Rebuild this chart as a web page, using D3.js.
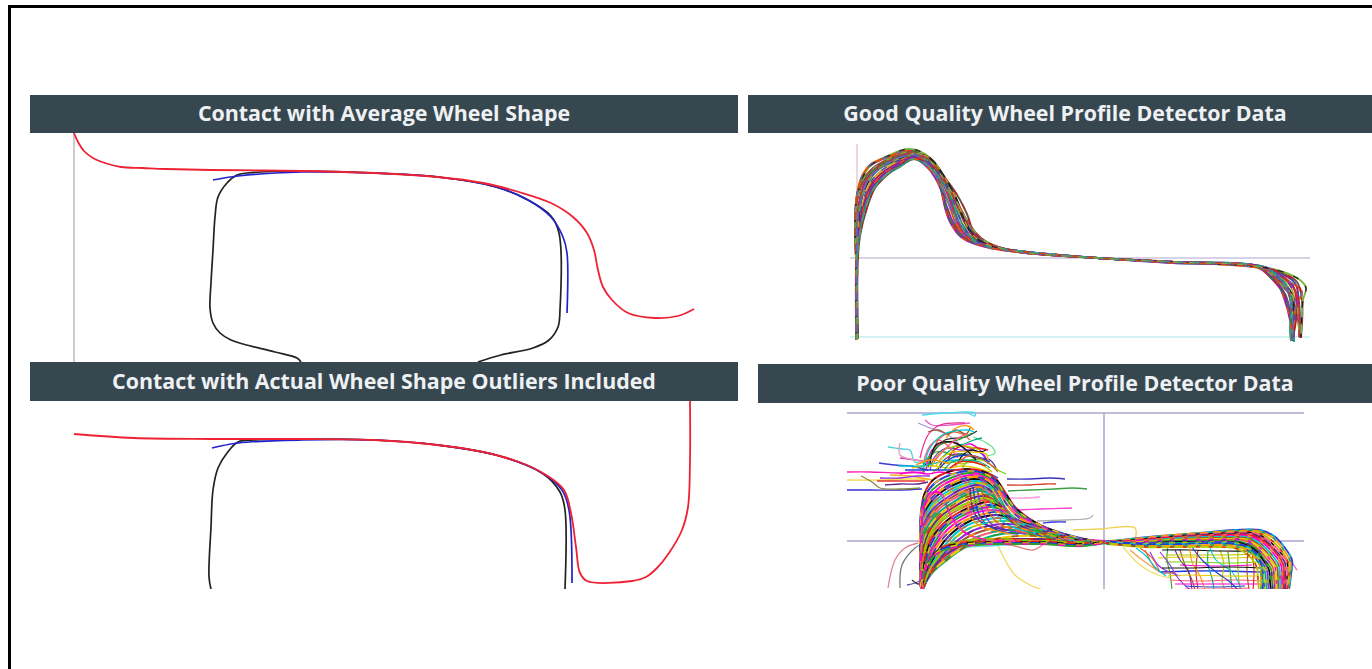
<!DOCTYPE html>
<html>
<head>
<meta charset="utf-8">
<script src="https://cdn.jsdelivr.net/npm/d3@7"></script>
<style>
  html, body { margin: 0; padding: 0; background: #fff; overflow: hidden; }
  svg { display: block; }
  .title { font-family: "Open Sans", sans-serif; font-weight: 700; font-size: 21.4px; fill: #eef1f3; }
</style>
</head>
<body>
<svg id="chart" width="1372" height="669"></svg>
<script>
const titles = [
  "Contact with Average Wheel Shape",
  "Good Quality Wheel Profile Detector Data",
  "Contact with Actual Wheel Shape Outliers Included",
  "Poor Quality Wheel Profile Detector Data"
];

// Average wheel panel
const avgWheel = [[44,0],[48,9],[54,18],[63,25],[75,30],[91,34],[113,35],[136,36],[181,37],[272,38],[344,40],[408,44],[453,50],[489,59],[521,70],[543,84],[557,100],[564,117],[568,137],[573,154],[582,167],[598,180],[625,185],[648,183],[664,176]];
const avgDesign = [[183,47],[208,43],[272,39],[344,40],[408,44],[466,54],[498,67],[521,84],[533,104],[537,120],[537,180]];
const avgRail = [[271,229],[267,225],[245,219],[213,211],[201,207],[190,200],[183,190],[180,175],[181,150],[183,117],[185,84],[188,64],[197,50],[207,42],[217,40],[272,38],[344,40],[408,44],[466,54],[498,67],[521,83],[529,100],[530,177],[528,194],[519,207],[503,215],[471,222],[448,229]];
const avgAxis = [[44,0],[44,229]];

// Actual wheel panel
const actWheel = [[44,33],[104,37],[181,38],[272,38],[344,39],[408,44],[453,51],[489,61],[516,74],[534,89],[541,112],[546,146],[550,172],[557,180],[602,180],[616,176],[627,167],[639,152],[652,129],[658,106],[660,59],[660,0]];
const actDesign = [[182,47],[208,42],[272,39],[344,39],[408,44],[466,54],[512,72],[532,89],[539,109],[542,182]];
const actRail = [[181,188],[179,176],[181,126],[183,89],[188,67],[197,52],[208,41],[226,39],[272,38],[344,39],[408,44],[466,54],[512,72],[530,91],[535,109],[535,188]];

// Detector traces: "x,y" pairs
const goodProfiles = [
  "17,210 16,130 15,92 17,65 22,48 30,36 48,27 70,20 84,27 98,48 103,68 110,90 120,105 138,114 177,121 257,128 333,132 417,137 430,147 443,163 450,183 452,211",
  "16,209 16,130 15,95 18,66 24,50 33,38 52,28 71,22 86,30 100,52 106,74 113,92 123,106 141,115 178,121 257,128 333,132 418,137 432,147 445,164 451,185 453,211",
  "17,210 17,128 17,96 20,68 26,50 36,38 54,29 72,23 88,30 102,50 110,70 118,92 128,107 146,116 178,122 257,128 334,132 418,136 434,146 447,160 452,180 452,210",
  "17,208 16,128 17,98 21,70 28,52 38,40 55,31 70,25 88,33 104,52 113,76 120,94 131,108 148,116 179,122 258,128 333,133 419,137 436,146 449,160 453,182 454,212",
  "17,210 17,130 18,100 23,72 30,53 41,41 56,32 72,26 90,33 106,54 116,78 123,95 134,109 150,116 179,122 258,128 334,132 420,137 438,145 451,157 455,180 453,210",
  "16,210 17,130 18,102 24,74 31,55 42,43 58,33 73,27 92,36 108,56 119,80 127,97 137,110 152,116 178,121 258,128 333,132 420,136 439,144 453,156 457,176 453,208",
  "17,209 17,130 19,104 25,76 33,57 44,44 59,35 74,28 94,38 110,58 122,82 130,99 141,110 155,116 179,122 257,128 333,132 421,136 440,143 455,153 459,172 460,207",
  "17,210 18,128 20,106 27,78 35,58 46,46 60,36 75,29 97,40 114,60 127,84 133,100 145,111 158,117 180,122 257,128 334,132 422,137 442,143 457,152 462,170 461,208",
  "16,208 16,126 15,94 17,67 23,47 31,35 50,25 68,19 85,24 102,44 114,64 123,88 134,106 150,116 178,121 257,128 333,132 420,137 437,140 460,150 466,158 463,170 461,207",
  "17,210 16,127 15,90 17,64 22,46 31,34 50,26 66,21 84,31 99,50 108,72 117,96 128,109 146,117 177,122 258,128 334,132 419,138 433,143 450,152 462,162 456,176 452,210",
  "18,209 17,128 18,99 21,71 28,52 38,39 56,30 74,24 90,28 104,46 116,68 126,94 136,108 154,117 178,121 257,128 333,132 418,136 431,142 447,156 454,172 451,190 451,211",
  "17,210 17,129 19,101 25,73 32,56 44,44 58,34 72,28 88,38 101,60 105,78 110,92 121,107 138,115 177,121 258,128 333,133 419,137 435,148 444,168 450,190 452,210",
  "16,210 16,128 17,97 20,69 26,51 37,40 54,30 71,24 92,34 105,58 114,82 118,94 127,106 145,115 178,122 257,128 334,132 421,137 441,146 455,160 459,178 459,207",
  "17,209 17,130 20,103 26,75 34,58 46,45 60,37 73,29 95,42 108,62 118,84 124,97 133,109 148,116 179,121 258,128 333,132 420,136 436,144 448,158 451,178 450,200 451,211",
  "17,210 16,129 15,93 18,66 24,48 35,37 53,27 70,22 87,28 103,48 119,76 130,95 141,108 155,116 180,122 257,128 334,132 418,137 432,145 446,160 456,170 458,190 460,208",
  "16,209 17,128 17,96 21,70 28,50 39,39 56,29 74,25 89,32 100,54 111,78 121,96 129,107 142,115 178,121 258,128 333,132 419,136 437,147 450,166 452,188 453,210"
];

const poorHumps = [
  "81,188 80,150 81,115 84,95 93,80 108,72 125,69 142,71 155,78 165,92 175,107 190,119 212,130 238,138 264,142",
  "82,188 80,145 81,112 85,96 95,83 110,75 128,71 143,73 156,81 166,96 177,110 192,121 215,131 240,138 264,143",
  "80,186 81,140 82,110 88,95 98,85 113,77 130,73 146,76 157,85 167,100 178,113 194,123 216,132 240,139 265,142",
  "82,189 81,148 82,113 89,98 100,87 115,79 132,75 146,78 157,88 166,103 177,115 195,125 218,133 241,139 264,141",
  "81,187 80,142 82,116 90,100 102,89 117,81 133,77 148,80 158,90 167,105 178,117 196,126 219,134 242,140 265,143",
  "83,188 81,150 83,118 91,102 103,91 118,83 134,79 147,82 157,93 165,108 176,119 197,127 220,134 243,140 264,142",
  "81,189 81,146 83,120 92,104 105,93 120,85 135,81 149,85 158,96 167,110 178,121 198,128 221,135 243,140 265,142",
  "82,187 81,152 84,122 93,106 106,95 121,87 137,83 150,87 159,98 167,112 179,122 199,129 222,135 244,140 264,143",
  "81,188 81,148 84,124 94,108 108,97 122,89 138,85 150,90 158,101 167,114 180,123 200,130 223,136 244,140 266,142",
  "83,186 81,155 85,126 95,110 109,99 124,91 139,87 151,92 159,103 168,116 181,125 201,131 224,136 245,141 264,142",
  "81,188 82,152 85,128 96,112 110,101 125,93 140,89 152,94 160,105 169,118 182,126 202,132 225,137 246,141 265,143",
  "82,189 82,156 86,130 97,114 112,103 126,95 141,91 153,97 161,107 170,119 183,127 203,132 226,137 246,141 264,142",
  "81,187 82,158 87,132 98,116 113,105 127,97 142,94 154,99 162,109 171,121 184,128 204,133 227,138 247,141 265,142",
  "83,188 82,160 88,134 99,118 114,107 129,99 144,96 155,101 164,111 173,122 185,129 205,134 228,138 247,142 264,143",
  "82,189 83,160 89,136 100,120 115,109 130,102 145,98 157,103 166,113 175,123 186,130 206,134 229,139 248,142 266,142",
  "81,188 83,162 90,138 101,122 116,111 131,104 146,100 158,105 168,115 177,124 188,131 207,135 230,139 248,142 264,142",
  "83,187 84,164 91,140 103,124 118,113 133,106 148,102 160,107 170,117 179,126 190,132 208,136 231,139 249,142 265,143",
  "82,189 85,166 92,142 104,126 119,115 134,108 150,105 162,109 172,119 181,127 192,133 209,136 232,140 249,142 264,142",
  "81,188 85,168 94,144 105,128 120,117 136,110 152,107 164,111 174,120 183,128 194,133 210,137 233,140 250,142 266,141",
  "82,188 86,169 95,146 107,130 122,119 138,112 154,110 166,113 176,122 185,129 196,134 211,137 234,140 250,142 264,143",
  "83,189 87,170 96,148 109,132 124,121 140,115 156,112 168,116 178,124 187,130 198,135 212,138 235,141 251,142 265,142",
  "81,188 88,171 98,150 111,134 126,123 142,117 158,115 170,118 180,125 190,131 200,135 214,138 236,141 251,142 264,142",
  "82,189 88,172 100,152 113,136 128,125 144,120 160,118 172,120 183,127 192,132 202,136 216,139 238,141 252,143 266,142",
  "84,188 90,172 102,154 115,138 130,128 146,123 162,121 175,122 186,128 195,133 205,137 218,139 239,141 253,142 264,143",
  "82,188 91,170 104,154 118,140 132,131 148,126 164,124 178,125 190,130 198,134 208,137 220,140 240,142 253,142 265,142",
  "81,189 92,170 105,156 120,142 134,134 150,129 166,127 180,128 192,132 202,135 212,138 222,140 242,142 255,142 264,142",
  "83,188 92,172 106,158 122,145 137,137 153,132 170,130 185,131 196,134 205,136 215,138 226,141 244,142 256,143 266,142",
  "82,188 93,172 107,160 124,148 140,140 156,135 174,133 190,134 200,136 210,138 220,140 232,142 246,142 257,142 264,142",
  "81,187 94,170 108,158 125,147 142,142 160,138 178,136 195,136 205,138 216,140 226,141 236,142 248,143 258,142 265,143",
  "83,189 95,166 110,152 128,143 146,140 165,139 185,139 200,139 212,140 222,141 232,142 242,143 250,142 258,142 264,142",
  "82,188 92,166 105,150 120,142 140,139 160,139 180,140 198,141 212,141 224,142 234,143 244,143 252,143 258,142 265,142",
  "81,186 87,168 96,152 110,144 130,141 152,140 176,140 196,141 210,142 224,142 236,142 246,142 254,142 260,143 265,143",
  "82,188 86,172 92,156 104,147 124,143 148,142 170,142 192,142 208,142 222,143 236,144 246,143 254,143 260,142 266,142",
  "80,187 84,174 90,160 100,150 118,145 142,143 166,143 188,143 206,143 220,144 234,145 246,145 254,144 260,143 265,142",
  "82,189 83,176 88,164 96,154 112,148 136,145 160,144 182,144 202,144 218,145 232,146 244,146 252,145 260,144 266,143",
  "83,188 81,170 81,150 82,132 82,118 84,106 88,98 92,93 97,92 102,95 106,104 112,118 124,132 146,140 176,141"
];

const poorCross = [
  "133,87 135,100 138,112 146,124 160,131 178,134",
  "137,88 140,102 144,114 152,124 168,130 186,134",
  "141,88 145,102 150,114 158,123 174,130 192,134",
  "145,87 150,100 155,112 163,122 178,129 196,133",
  "130,88 131,100 134,112 141,122 156,128 172,131",
  "128,92 128,104 130,115 138,125 152,130 170,134",
  "149,86 155,100 160,110 168,120 184,128 204,134",
  "153,85 160,98 166,110 174,119 190,127 210,133"
];

const poorBand = [
  "264,142 290,139 320,136 360,133 395,130 420,130 434,136 445,148 452,160 451,175 449,190",
  "266,143 292,139 322,136 362,133 396,131 418,131 432,137 443,149 450,161 450,176 448,190",
  "264,141 293,140 324,137 362,134 395,132 416,132 430,139 441,150 448,162 449,176 447,190",
  "265,142 294,140 324,137 364,134 394,133 414,133 428,140 439,151 447,162 447,178 446,190",
  "266,143 295,141 326,138 364,135 394,134 412,134 426,141 437,152 445,163 445,178 445,190",
  "264,142 295,141 326,138 365,136 393,135 410,135 425,142 436,153 443,164 444,178 443,190",
  "265,143 296,141 328,139 366,137 392,136 408,136 423,143 434,154 441,165 442,178 442,190",
  "266,142 297,142 328,139 366,137 391,137 406,137 421,144 432,155 439,166 440,179 440,190",
  "264,143 297,142 330,140 366,138 390,138 405,138 419,145 430,156 437,167 438,179 438,190",
  "265,142 298,142 330,140 367,139 389,139 404,139 418,146 428,157 435,167 436,180 437,190",
  "266,141 298,143 332,141 367,140 388,140 403,140 416,147 426,158 433,168 434,180 435,190",
  "264,142 300,143 332,141 368,141 388,141 402,142 415,148 424,159 431,169 432,181 433,190",
  "265,143 300,144 334,142 368,142 387,142 401,143 414,149 423,160 429,170 430,182 431,190",
  "266,142 301,143 336,143 370,142 386,142 400,144 412,150 421,161 427,171 428,182 429,190",
  "264,143 302,144 336,143 372,143 386,143 398,144 411,151 420,161 425,172 426,183 427,190",
  "265,142 303,145 338,144 374,143 386,144 398,145 410,152 418,162 423,172 424,184 425,190",
  "264,141 300,144 340,144 385,143 405,146 416,153 421,165 422,178 423,190",
  "266,144 302,146 340,146 376,145 392,146 404,149 414,156 420,166 421,178 421,190",
  "265,143 304,147 342,147 378,147 394,148 404,152 412,159 417,168 418,180 419,190"
];

const poorOutliers = [
  "7,72 30,72 60,73 85,72", "7,90 30,90 60,90 82,89", "7,80 40,80 70,79 88,80", "37,81 60,81 85,81",
  "21,76 32,82 40,88 60,89 80,88", "50,75 70,76 92,80", "39,63 55,65 70,66 88,70", "60,58 75,60 88,62",
  "167,79 190,79 210,78 225,79", "167,85 190,85 205,84 216,84", "168,91 190,90 215,89 232,88 247,89",
  "170,98 185,98 200,97", "177,110 200,109 232,108", "197,121 225,120 250,118 253,115", "203,123 215,122 226,122",
  "82,15 105,13 135,13 135,16 128,13", "85,20 92,25 110,25 130,23", "80,58 88,35 100,25 125,23", "78,23 90,28 108,35 120,45 130,56",
  "137,31 125,37 105,40 95,50 85,65", "48,47 62,49 70,50 75,62 90,62", "60,43 60,55 75,60 84,62", "133,37 145,42 153,48 155,53 147,56",
  "157,143 165,160 175,175 190,185 203,190", "233,130 260,129 295,128 295,140", "90,170 105,155 125,148 150,146 200,143",
  "48,188 55,160 65,148 78,143", "60,188 62,165 75,148 80,145", "157,143 175,146 193,150 205,143", "67,185 75,183 82,180", "72,180 78,184 80,183",
  "283,147 300,165 318,175 330,178", "290,150 305,162 320,172", "457,170 452,162 450,155",
  "320,172 350,171 385,171 420,172"
];
const poorOutlierColors = [
  "#ff1fb4", "#3b2fd0", "#f5d94a", "#e8352c",
  "#8a8a40", "#f0b020", "#3b3bd0", "#ee2fa8",
  "#3a30c0", "#d8402c", "#3aa040",
  "#f59be0", "#ff40d0", "#b0b0b0", "#3b3be0",
  "#44ddee", "#e858c8", "#ee2f90", "#b090e0",
  "#333333", "#50d0e0", "#e0a0c0", "#70e090",
  "#f2d860", "#f0d050", "#66e0ee",
  "#e08090", "#777777", "#e08080", "#6050c0", "#333333",
  "#f0e070", "#f0a050", "#e070c0",
  "#2030e0"
];

// Strands above the hump
const poorFan = [
  "86,70 88,60 92,50 100,44 112,42 122,46 130,44 140,50 146,58",
  "90,70 94,58 102,50 110,48 120,50 132,50 142,54 148,64",
  "98,70 102,62 110,56 118,54 130,56 138,58 150,60 156,68",
  "84,72 84,62 90,56 96,52 104,52 114,56 122,54 134,58",
  "92,74 100,66 110,62 122,64 132,62 144,66 152,72",
  "72,68 82,66 94,66 108,68 122,66 136,68 150,72",
  "65,70 80,70 96,70 116,70 130,70 146,72 158,78",
  "58,66 72,66 84,66 100,62 116,60 128,62",
  "100,60 108,52 116,46 124,44 134,40 142,38",
  "108,60 114,50 122,46 130,48 138,48 148,50",
  "118,62 124,54 132,50 140,52 146,50",
  "84,60 90,46 98,40 106,44 112,50 118,58",
  "94,48 100,38 112,32 122,34 130,40",
  "106,38 116,28 128,26 134,30",
  "88,32 98,30 108,34 116,30 126,34 130,28",
  "122,68 130,60 142,60 150,64 158,70 166,74",
  "60,74 72,72 88,74 100,72 112,74",
  "40,78 60,78 78,76 90,76",
  "45,85 60,84 78,84 88,82",
  "88,68 92,52 102,44 118,40 132,33",
  "92,66 98,55 108,48 124,46 140,50",
  "96,66 102,58 112,52 128,52 146,54 148,60",
  "100,68 108,60 118,56 134,56 150,62",
  "84,66 90,48 104,34 128,30 134,32",
  "104,70 112,62 124,60 140,62 150,68",
  "110,68 120,62 132,62 146,66",
  "90,64 96,45 112,42 124,48 136,60",
  "94,62 104,50 118,38 128,34",
  "115,66 128,56 140,58 152,66 158,72",
  "76,65 90,60 110,64"
];

// Grid of short traces under the right shoulder
const poorGrid = [
  "328,146 327,160 330,173 332,190", "340,150 345,165 352,180 355,190", "358,150 356,170 358,190",
  "380,150 384,165 382,180 385,190", "398,148 398,170 400,190", "322,150 350,150 380,151 420,151",
  "318,158 350,157 385,158 418,157", "340,165 375,166 412,165", "330,180 360,181 395,180 420,181",
  "345,186 375,187 405,186", "310,152 318,165 325,170 340,176", "300,148 312,158 320,172",
  "370,148 376,160 392,172 402,190", "335,150 340,160 348,170 352,190", "350,148 352,162 360,176 365,190",
  "368,150 368,165 372,178 374,190", "388,152 390,170 392,190", "408,150 407,170 409,190",
  "412,152 414,170 413,190", "326,155 350,155 380,155 415,154", "325,162 355,162 390,163 418,162",
  "322,168 350,168 390,167 420,168", "328,176 350,175 385,176 419,176", "335,184 360,184 395,184 420,184",
  "345,189 372,189 410,188", "352,147 362,160 376,172 390,182 398,190", "320,152 330,165 338,178 350,190",
  "305,150 315,168 322,173 335,172", "296,148 306,156 316,168 326,176"
];

const goodColors = ["#c2185b","#6a3fa0","#2e7d32","#00a0a0","#c9a227","#b71c1c","#3949ab","#6d4c41","#7cb342","#e65100","#222222","#8e24aa","#d81b60","#4e9a6b","#a0522d","#5c6bc0"];
const poorColors = ["#e41a1c","#1f3fd0","#2ca02c","#ff00cc","#ff9900","#111111","#00c8d8","#b8c400","#8a2be2","#a0522d","#ff5a7a","#00a884","#e8c800","#5b2a86","#7fd000","#e06030"];

const svg = d3.select("#chart");

const defs = svg.append("defs");
defs.append("filter").attr("id", "soft").attr("x", "-5%").attr("y", "-5%").attr("width", "110%").attr("height", "110%")
  .append("feGaussianBlur").attr("stdDeviation", 0.5);
defs.append("filter").attr("id", "softer").attr("x", "-5%").attr("y", "-5%").attr("width", "110%").attr("height", "110%")
  .append("feGaussianBlur").attr("stdDeviation", 0.7);
defs.append("clipPath").attr("id", "clip-poor").append("rect").attr("x", 840).attr("y", 403).attr("width", 480).attr("height", 186);
defs.append("clipPath").attr("id", "clip-actual").append("rect").attr("x", 30).attr("y", 401).attr("width", 708).attr("height", 188);

// Outer frame, only top and left are inside the shot
svg.append("path")
  .attr("d", "M9.5,669V6.5H1372")
  .attr("fill", "none")
  .attr("stroke", "#000")
  .attr("stroke-width", 3);

function parseTrace(s) {
  return s.split(" ").map(p => p.split(",").map(Number));
}

function makeLine(x, y) {
  return d3.line()
    .x(d => x(d[0]))
    .y(d => y(d[1]))
    .curve(d3.curveCatmullRom.alpha(0.5));
}

// Draws one family of traces, dash is only set for the mottled overlay
function drawTraces(g, name, traces, line, color, width, dash) {
  g.selectAll("path." + name)
    .data(traces.map(parseTrace))
    .enter()
    .append("path")
    .attr("class", name)
    .attr("d", line)
    .attr("fill", "none")
    .attr("stroke", color)
    .attr("stroke-width", width)
    .attr("stroke-dasharray", dash || null);
}

// Contact panels
const xContact = d3.scaleLinear().domain([0, 708]).range([30, 738]);
const yAvg = d3.scaleLinear().domain([0, 229]).range([133, 362]);
const yAct = d3.scaleLinear().domain([0, 188]).range([401, 589]);

const avgG = svg.append("g").attr("filter", "url(#soft)");
avgG.append("line")
  .attr("x1", xContact(avgAxis[0][0])).attr("x2", xContact(avgAxis[1][0]))
  .attr("y1", yAvg(avgAxis[0][1])).attr("y2", yAvg(avgAxis[1][1]))
  .attr("stroke", "#9a9a9a").attr("stroke-width", 1);

const avgLine = makeLine(xContact, yAvg);
avgG.append("path").attr("d", avgLine(avgRail)).attr("fill", "none").attr("stroke", "#222").attr("stroke-width", 1.7);
avgG.append("path").attr("d", avgLine(avgDesign)).attr("fill", "none").attr("stroke", "#2222cc").attr("stroke-width", 1.7);
avgG.append("path").attr("d", avgLine(avgWheel)).attr("fill", "none").attr("stroke", "#ee2233").attr("stroke-width", 1.8);

const actG = svg.append("g").attr("filter", "url(#soft)").attr("clip-path", "url(#clip-actual)");
const actLine = makeLine(xContact, yAct);
actG.append("path").attr("d", actLine(actRail)).attr("fill", "none").attr("stroke", "#222").attr("stroke-width", 1.7);
actG.append("path").attr("d", actLine(actDesign)).attr("fill", "none").attr("stroke", "#2222cc").attr("stroke-width", 1.7);
actG.append("path").attr("d", actLine(actWheel)).attr("fill", "none").attr("stroke", "#ee2233").attr("stroke-width", 1.8);

// Good detector panel
const xGood = d3.scaleLinear().domain([0, 480]).range([840, 1320]);
const yGood = d3.scaleLinear().domain([0, 225]).range([130, 355]);
const goodG = svg.append("g").attr("filter", "url(#softer)");
goodG.append("line").attr("x1", xGood(17)).attr("x2", xGood(17)).attr("y1", yGood(14)).attr("y2", yGood(210)).attr("stroke", "#e6c8d4").attr("stroke-width", 1.5);
goodG.append("line").attr("x1", xGood(10)).attr("x2", xGood(470)).attr("y1", yGood(128)).attr("y2", yGood(128)).attr("stroke", "#c8c4de").attr("stroke-width", 1.5);
goodG.append("line").attr("x1", xGood(10)).attr("x2", xGood(470)).attr("y1", yGood(207)).attr("y2", yGood(207)).attr("stroke", "#c4eef2").attr("stroke-width", 1.5);

const goodLine = makeLine(xGood, yGood);
drawTraces(goodG, "trace", goodProfiles, goodLine, (d, i) => goodColors[i % goodColors.length], 1.9);
drawTraces(goodG, "trace-over", goodProfiles, goodLine, (d, i) => goodColors[(i * 5 + 2) % goodColors.length], 1.3, "6 10");

// Poor detector panel
const xPoor = d3.scaleLinear().domain([0, 480]).range([840, 1320]);
const yPoor = d3.scaleLinear().domain([0, 200]).range([400, 600]);
const poorG = svg.append("g").attr("filter", "url(#soft)").attr("clip-path", "url(#clip-poor)");
poorG.append("line").attr("x1", xPoor(7)).attr("x2", xPoor(464)).attr("y1", yPoor(13)).attr("y2", yPoor(13)).attr("stroke", "#a9a6cc").attr("stroke-width", 1.5);
poorG.append("line").attr("x1", xPoor(7)).attr("x2", xPoor(464)).attr("y1", yPoor(141)).attr("y2", yPoor(141)).attr("stroke", "#a9a6cc").attr("stroke-width", 1.5);
poorG.append("line").attr("x1", xPoor(264)).attr("x2", xPoor(264)).attr("y1", yPoor(13)).attr("y2", yPoor(190)).attr("stroke", "#a9a6cc").attr("stroke-width", 1.5);

const poorLine = makeLine(xPoor, yPoor);
drawTraces(poorG, "outlier", poorOutliers, poorLine, (d, i) => poorOutlierColors[i], 1.3);
drawTraces(poorG, "fan", poorFan, poorLine, (d, i) => poorColors[(i * 5 + 3) % poorColors.length], 1.3);
drawTraces(poorG, "grid", poorGrid, poorLine, (d, i) => poorColors[(i * 7 + 2) % poorColors.length], 1.1);
drawTraces(poorG, "band", poorBand, poorLine, (d, i) => poorColors[(i * 3 + 1) % poorColors.length], 1.8);
drawTraces(poorG, "hump", poorHumps, poorLine, (d, i) => poorColors[i % poorColors.length], 2);
drawTraces(poorG, "cross", poorCross, poorLine, (d, i) => poorColors[(i * 7 + 1) % poorColors.length], 1.4);
drawTraces(poorG, "band-over", poorBand, poorLine, (d, i) => poorColors[(i * 5 + 6) % poorColors.length], 1.3, "4 9");
drawTraces(poorG, "hump-over", poorHumps, poorLine, (d, i) => poorColors[(i * 7 + 5) % poorColors.length], 1.4, "7 11");

// Header bars
const bars = [
  { x: 30, y: 95, w: 708, h: 38 },
  { x: 748, y: 95, w: 624, h: 38 },
  { x: 30, y: 362, w: 708, h: 39 },
  { x: 758, y: 364, w: 614, h: 39 }
];
const textCenters = [384, 1065, 384, 1075];

const head = svg.selectAll("g.head")
  .data(titles)
  .enter()
  .append("g")
  .attr("class", "head");

head.append("rect")
  .attr("x", (d, i) => bars[i].x)
  .attr("y", (d, i) => bars[i].y)
  .attr("width", (d, i) => bars[i].w)
  .attr("height", (d, i) => bars[i].h)
  .attr("fill", "#37474f");

head.append("text")
  .attr("class", "title")
  .attr("x", (d, i) => textCenters[i])
  .attr("y", (d, i) => bars[i].y + bars[i].h / 2 + 7)
  .attr("text-anchor", "middle")
  .text(d => d);
</script>
</body>
</html>
